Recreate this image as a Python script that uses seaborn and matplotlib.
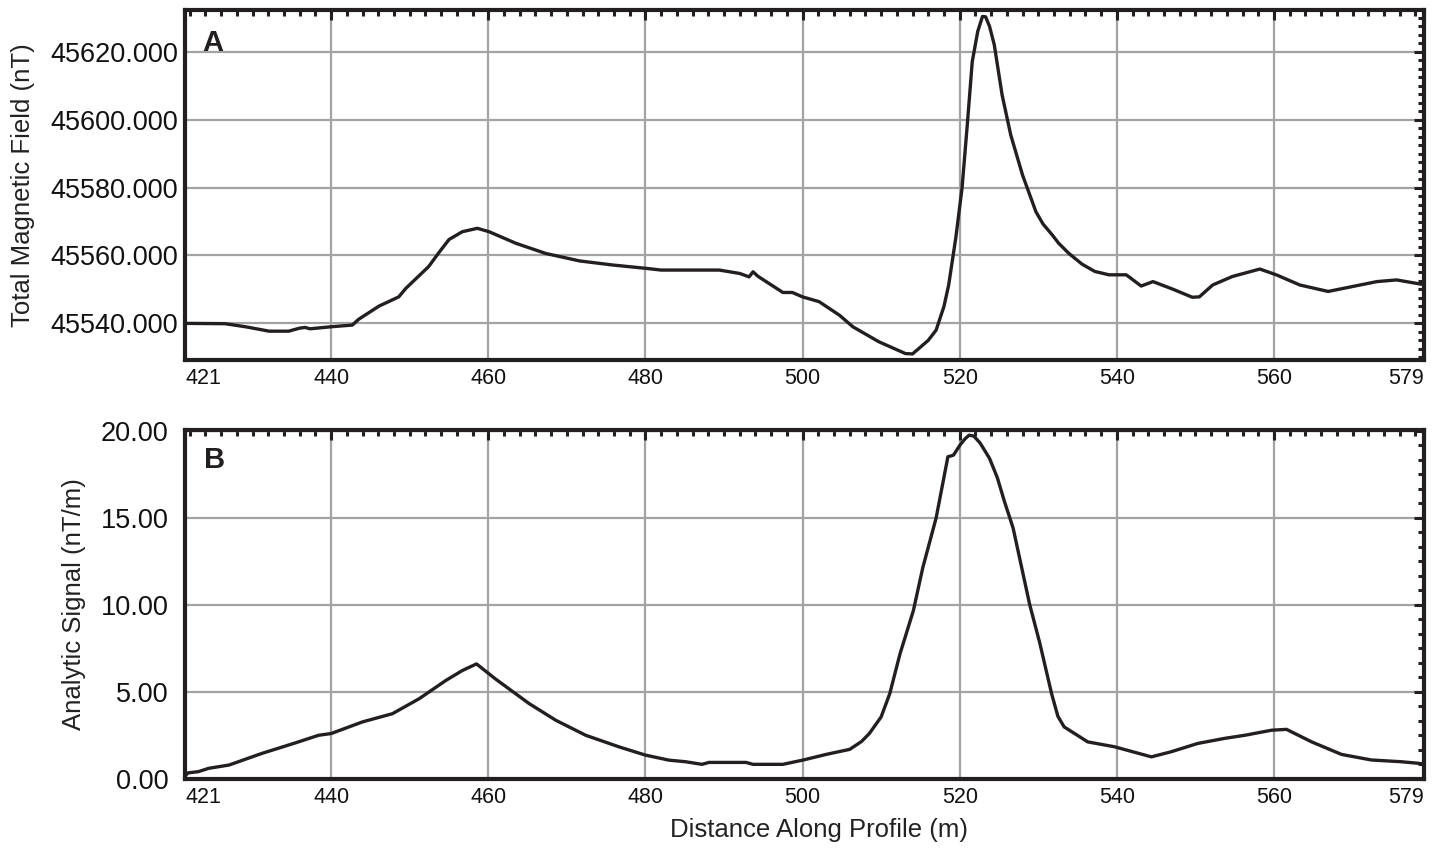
import matplotlib
matplotlib.use('Agg')
import matplotlib.pyplot as plt
import seaborn as sns
import pandas as pd
from matplotlib.ticker import FixedLocator, MultipleLocator, FormatStrFormatter

# panel A - total magnetic field along the profile
field_dist = [421.4, 426.5, 429.1, 432.1, 434.6, 436.0, 436.7, 437.3, 440.0, 442.7,
              443.5, 446.1, 448.6, 449.5, 452.4, 453.7, 455.0, 456.7, 458.6, 460.1,
              463.5, 467.3, 471.6, 475.8, 480.1, 482.0, 489.4, 492.0, 493.2, 493.7,
              494.3, 497.5, 498.7, 500.0, 502.1, 504.7, 506.4, 509.7, 513.1, 514.0,
              514.8, 516.0, 517.0, 518.0, 518.6, 519.5, 520.3, 521.0, 521.6, 522.3,
              522.9, 523.3, 523.8, 524.4, 525.4, 526.5, 528.0, 529.7, 530.6, 531.8,
              532.6, 533.9, 535.6, 537.2, 539.0, 541.2, 543.1, 544.6, 547.1, 549.6,
              550.5, 552.2, 554.7, 558.2, 560.3, 563.3, 566.9, 570.1, 573.1, 575.6,
              578.6, 579.1]
field_nt = [45540.0, 45539.9, 45539.0, 45537.7, 45537.7, 45538.6, 45538.8, 45538.4, 45539.0, 45539.5,
            45541.2, 45545.1, 45547.8, 45550.3, 45556.7, 45560.8, 45564.7, 45567.0, 45568.0, 45567.0,
            45563.6, 45560.6, 45558.4, 45557.2, 45556.2, 45555.7, 45555.7, 45554.7, 45553.7, 45555.2,
            45553.9, 45549.1, 45549.1, 45547.8, 45546.4, 45542.4, 45539.0, 45534.6, 45531.1, 45531.0,
            45532.6, 45535.0, 45538.0, 45545.0, 45551.3, 45565.1, 45579.8, 45599.4, 45617.1, 45626.0,
            45630.4, 45630.3, 45627.5, 45622.1, 45607.3, 45595.5, 45583.7, 45572.9, 45569.3, 45566.0,
            45563.6, 45560.6, 45557.4, 45555.3, 45554.3, 45554.3, 45551.0, 45552.3, 45550.1, 45547.7,
            45547.8, 45551.3, 45553.8, 45556.0, 45554.3, 45551.3, 45549.4, 45550.9, 45552.3, 45552.8,
            45551.6, 45551.5]

# panel B - analytic signal
signal_dist = [421.2, 421.8, 423.1, 424.4, 427.0, 431.2, 435.5, 438.4, 440.0, 444.0, 447.8,
               451.2, 454.6, 456.7, 458.5, 460.9, 465.2, 468.6, 472.4, 476.6, 480.0,
               483.0, 485.1, 487.2, 488.1, 492.8, 493.7, 497.5, 500.1, 503.0, 506.0,
               507.5, 508.5, 510.0, 511.1, 512.4, 514.1, 515.3, 517.0, 518.5, 519.2,
               520.1, 520.7, 521.2, 521.8, 522.6, 523.8, 524.8, 525.7, 526.8, 528.9,
               530.2, 531.7, 532.5, 533.3, 536.3, 539.7, 544.4, 546.9, 550.3, 553.7,
               556.3, 559.7, 561.6, 564.8, 568.6, 572.4, 576.2, 578.4, 579.1]
signal_val = [0.10, 0.35, 0.42, 0.61, 0.80, 1.47, 2.08, 2.51, 2.61, 3.28, 3.75,
              4.61, 5.66, 6.23, 6.61, 5.75, 4.33, 3.37, 2.51, 1.85, 1.37,
              1.08, 0.99, 0.84, 0.95, 0.95, 0.84, 0.84, 1.09, 1.41, 1.70,
              2.15, 2.61, 3.56, 4.90, 7.18, 9.66, 12.13, 14.99, 18.51, 18.60,
              19.22, 19.55, 19.75, 19.70, 19.30, 18.42, 17.30, 15.94, 14.42, 10.04,
              7.80, 4.90, 3.60, 2.99, 2.13, 1.85, 1.27, 1.56, 2.04, 2.33,
              2.51, 2.80, 2.85, 2.13, 1.41, 1.09, 0.99, 0.90, 0.85]

x_ticks = [421.4, 440, 460, 480, 500, 520, 540, 560, 579.1]
x_ticklabels = ['421', '440', '460', '480', '500', '520', '540', '560', '579']

sns.set_theme(style='white')
plt.rcParams['font.family'] = ['Liberation Sans', 'DejaVu Sans']

line_col = '#231f20'
grid_col = '#a3a3a3'

fig = plt.figure(figsize=(14.41, 8.56), dpi=100)
ax1 = fig.add_axes([0.1284, 0.5794, 0.8598, 0.4089])
ax2 = fig.add_axes([0.1284, 0.0900, 0.8598, 0.4077])

df_a = pd.DataFrame({'dist': field_dist, 'tmf': field_nt})
df_b = pd.DataFrame({'dist': signal_dist, 'as': signal_val})

sns.lineplot(data=df_a, x='dist', y='tmf', ax=ax1, color=line_col, lw=2.4, sort=False, estimator=None)
sns.lineplot(data=df_b, x='dist', y='as', ax=ax2, color=line_col, lw=2.4, sort=False, estimator=None)


def style_axis(ax, yfmt, ymin, ymax, ymajor, yminor, ypad):
    ax.set_xlim(421.4, 579.1)
    ax.set_ylim(ymin, ymax)
    ax.xaxis.set_major_locator(FixedLocator(x_ticks))
    ax.set_xticklabels(x_ticklabels)
    ax.xaxis.set_minor_locator(MultipleLocator(2))
    ax.yaxis.set_major_locator(MultipleLocator(ymajor))
    ax.yaxis.set_minor_locator(MultipleLocator(yminor))
    ax.yaxis.set_major_formatter(FormatStrFormatter(yfmt))
    ax.grid(True, which='major', color=grid_col, lw=1.6)
    ax.set_axisbelow(True)
    for s in ax.spines.values():
        s.set_color(line_col)
        s.set_linewidth(3)
    ax.tick_params(which='both', direction='in', top=True, right=True, color=line_col)
    ax.tick_params(which='major', length=7, width=2.2)
    ax.tick_params(which='minor', length=4, width=2.2)
    ax.tick_params(axis='y', labelsize=19.5, pad=ypad, labelcolor='#111111')
    ax.tick_params(axis='x', labelsize=15.5, pad=6, labelcolor='#111111')
    labels = ax.get_xticklabels()
    labels[0].set_ha('left')
    labels[-1].set_ha('right')
    ax.set_xlabel('')


style_axis(ax1, '%.3f', 45529.2, 45632.3, 20, 2.5, 5)
style_axis(ax2, '%.2f', 0, 20.05, 5, 5 / 6, 12)

ax1.set_ylabel('Total Magnetic Field (nT)', fontsize=18.5, color='#222222')
ax1.yaxis.set_label_coords(-0.121, 0.5)
ax2.set_ylabel('Analytic Signal (nT/m)', fontsize=18.5, color='#222222')
ax2.yaxis.set_label_coords(-0.0798, 0.5)
ax2.set_xlabel('Distance Along Profile (m)', fontsize=18.5, color='#222222')
ax2.xaxis.set_label_coords(0.512, -0.112)

ax1.text(0.014, 0.945, 'A', transform=ax1.transAxes, fontsize=21, fontweight='bold',
         va='top', ha='left', color=line_col)
ax2.text(0.015, 0.953, 'B', transform=ax2.transAxes, fontsize=21, fontweight='bold',
         va='top', ha='left', color=line_col)

fig.savefig('out.png', dpi=100)
